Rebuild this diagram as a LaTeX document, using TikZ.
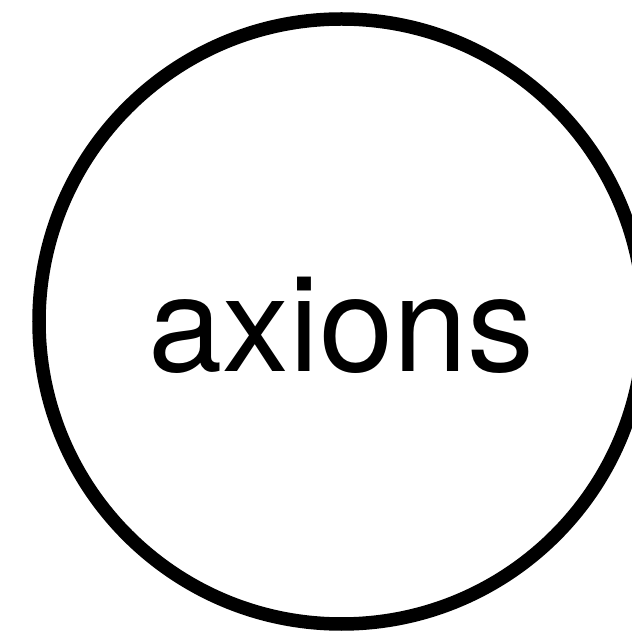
\documentclass[tikz,border=0pt]{standalone}
\usepackage{fontspec}
\setmainfont{TeX Gyre Heros}
\usepackage{tikz}

\begin{document}
\begin{tikzpicture}[
    ring/.style={draw, circle, line width=0.135cm, minimum size=6.05cm, inner sep=0pt},
    rot/.style={font=\fontsize{38}{40}\selectfont}
]
\useasboundingbox (0,0) rectangle (6.31,6.32);
\node[ring] (axion) at (3.415,3.105) {};
\node[rot, anchor=base] (nome) at (3.415,2.60) {axions};
\end{tikzpicture}
\end{document}
